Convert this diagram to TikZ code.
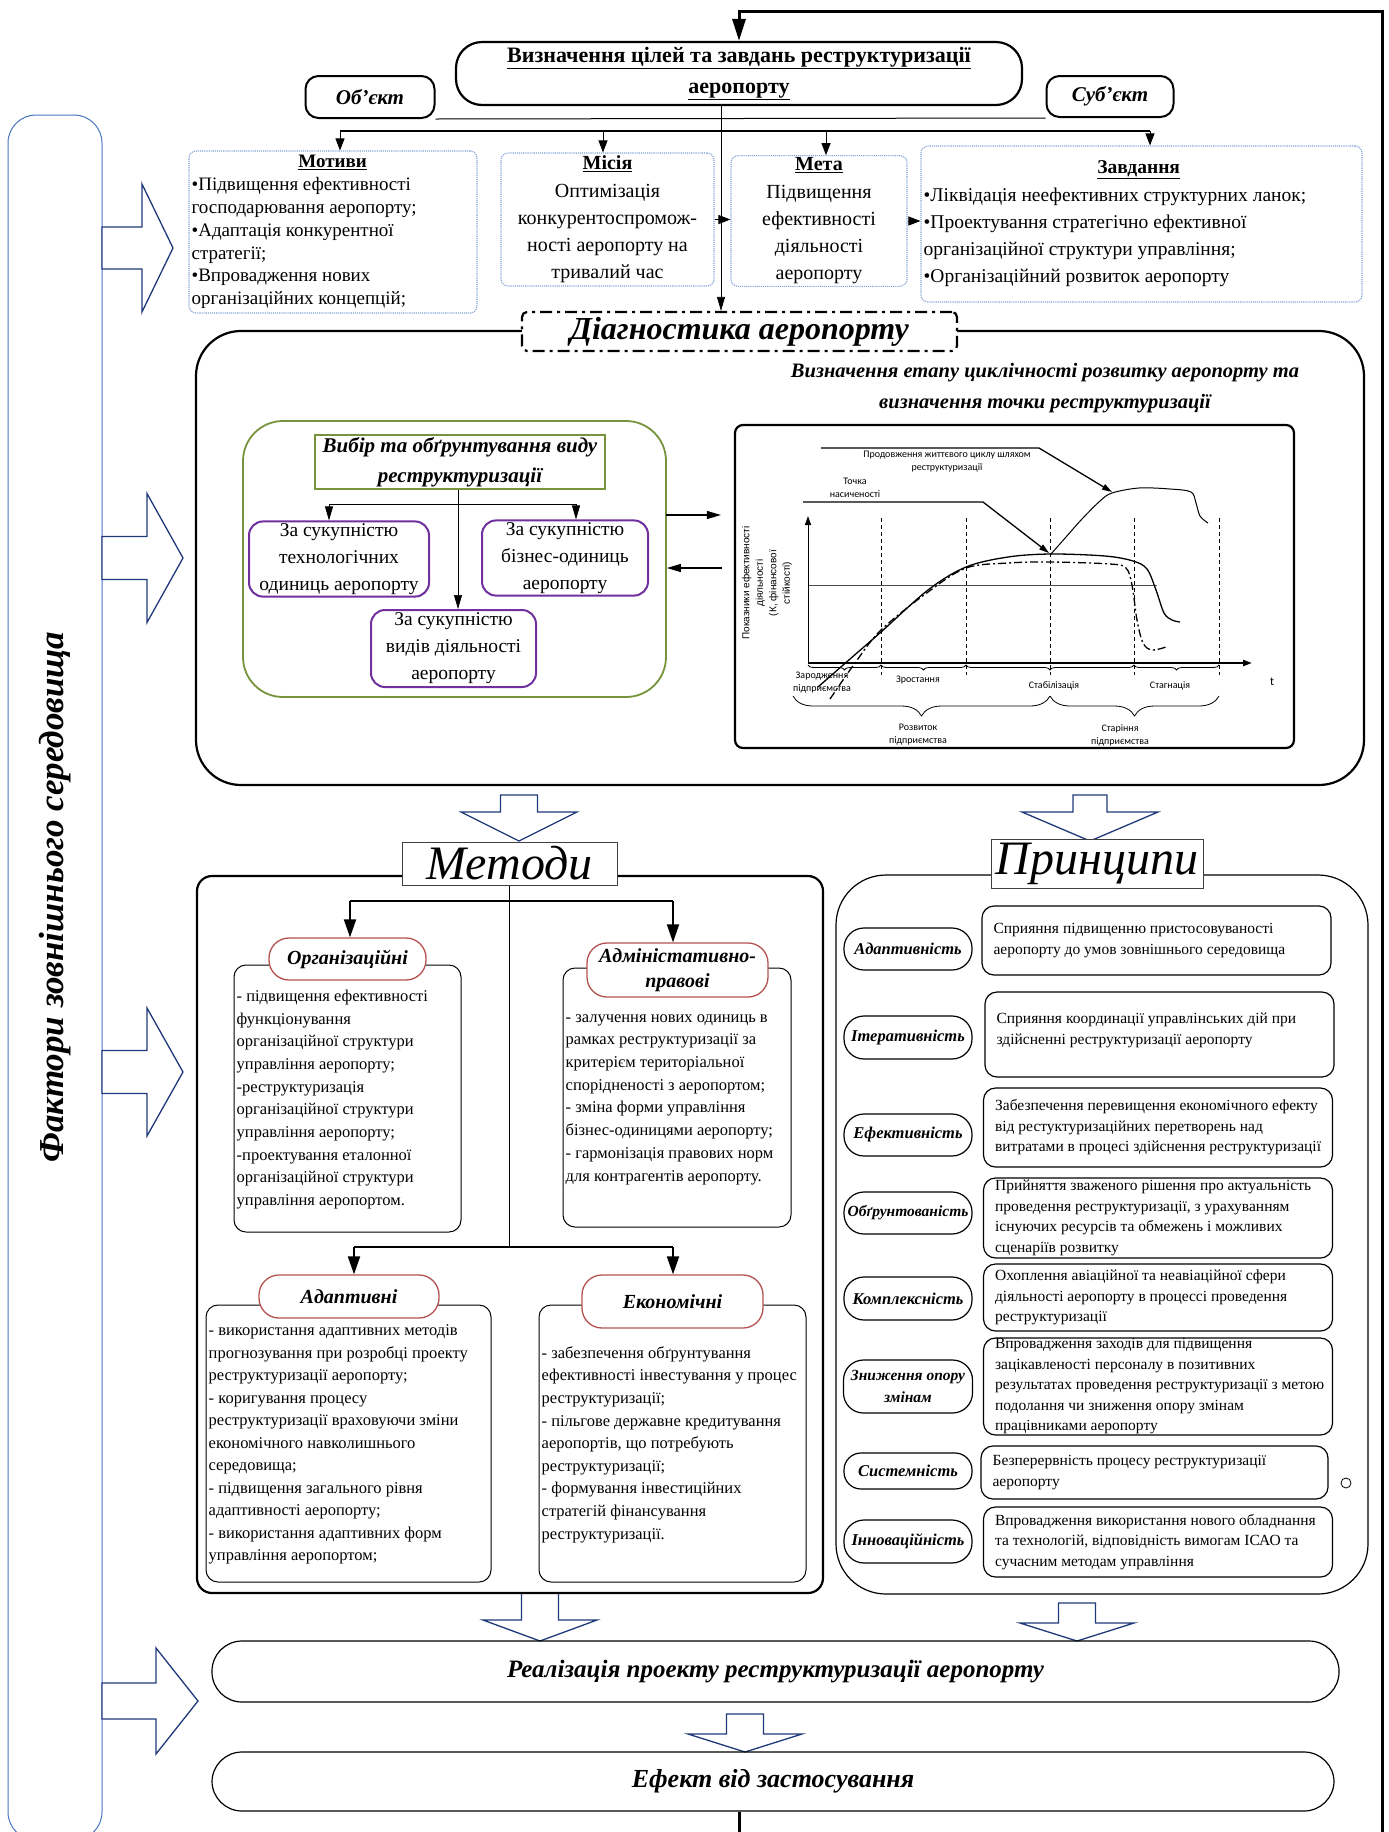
\documentclass[tikz,border=0pt]{standalone}
\usepackage{fontspec}
\setmainfont{Liberation Serif}
\newfontfamily\chartfont{Carlito}
\newfontfamily\axisfont{Liberation Sans}
\usetikzlibrary{arrows.meta,decorations.pathreplacing,calc}
\definecolor{navyc}{HTML}{1F3A7A}
\definecolor{barblue}{HTML}{4A76C0}
\definecolor{dotblue}{HTML}{7F9FD8}
\definecolor{olivec}{HTML}{77933C}
\definecolor{violetc}{HTML}{7030A0}
\definecolor{hdrred}{HTML}{B5524F}
\newcommand\fsz[2]{\fontsize{#1}{#2}\selectfont}
\newcommand\hdown[6]{\draw[hollow] ({#1-#5},#2) -- ({#1+#5},#2) -- ({#1+#5},#3) -- ({#1+#6},#3) -- (#1,#4) -- ({#1-#6},#3) -- ({#1-#5},#3) -- cycle;}
\newcommand\hright[6]{\draw[hollow] (#2,{#1-#5}) -- (#3,{#1-#5}) -- (#3,{#1-#6}) -- (#4,#1) -- (#3,{#1+#6}) -- (#3,{#1+#5}) -- (#2,{#1+#5}) -- cycle;}
\begin{document}
\begin{tikzpicture}[x=1pt,y=-1pt,
  every node/.style={inner sep=2pt},
  goalbox/.style={draw, line width=2.2pt, rounded corners=26pt, fill=white},
  smallround/.style={draw, line width=2pt, rounded corners=13pt, fill=white},
  dotbox/.style={draw=dotblue, densely dotted, line width=1.1pt, rounded corners=7pt},
  arr/.style={-{Triangle[length=12pt,width=9pt]}, line width=1pt},
  thinarr/.style={-{Triangle[length=14pt,width=8pt]}, line width=0.7pt},
  bigarr/.style={-{Triangle[length=18pt,width=12pt]}, line width=2pt},
  diagbox/.style={draw, dash pattern=on 12pt off 5pt on 3pt off 5pt, line width=2.2pt, rounded corners=5pt, fill=white},
  bigbox/.style={draw, line width=2.2pt},
  greenbox/.style={draw=olivec, line width=1.8pt, rounded corners=40pt},
  choicebox/.style={draw=olivec, line width=2pt, fill=white},
  purplebox/.style={draw=violetc, line width=2pt, rounded corners=14pt, fill=white},
  hollow/.style={draw=navyc, line width=1.3pt, fill=white, line join=miter},
  titlebox/.style={draw=black!75, line width=1pt, fill=white},
  hdr/.style={draw=hdrred, line width=1.3pt, rounded corners=20pt, fill=white},
  contentbox/.style={draw, line width=1pt, rounded corners=12pt},
  oval/.style={draw, line width=1.2pt, rounded corners=20pt, fill=white, font=\bfseries\itshape\fsz{16.5}{20}},
  descbox/.style={draw, line width=1.2pt, rounded corners=12pt},
  stadium/.style={draw, line width=1.2pt, rounded corners=30pt},
  ctext/.style={font=\chartfont\fsz{10}{13}, align=center, inner sep=0pt},
  chartline/.style={line width=1.3pt},
]
\useasboundingbox (0,0) rectangle (1389,1832);
\fill[white] (0,0) rectangle (1389,1832);

% ---------- left bar ----------
\node[draw=barblue, line width=1pt, rounded corners=28pt, minimum width=94pt, minimum height=1725pt] (bar) at (55,977.5) {};
\node[rotate=90, font=\bfseries\itshape\fsz{35}{40}] (bartext) at (55,897) {Фактори зовнішнього середовища};
\hright{248}{102}{142}{173}{21}{64}
\hright{558}{102}{147}{183}{21.5}{64.5}
\hright{1072}{102}{147}{183}{21.5}{64}
\hright{1701}{102}{156}{198}{18}{53}

% ---------- top ----------
\node[goalbox, minimum width=566pt, minimum height=63pt, align=center, font=\bfseries\fsz{22}{31}] (goal) at (739,73.5) {\underline{Визначення цілей та завдань реструктуризації}\\\underline{аеропорту}};
\node[smallround, minimum width=129pt, minimum height=42pt, font=\bfseries\itshape\fsz{21}{24}] (obj) at (370,97) {Об’єкт};
\node[smallround, minimum width=127pt, minimum height=41pt, font=\bfseries\itshape\fsz{21}{24}] (subj) at (1110,96.5) {Суб’єкт};
\draw[line width=1pt] (obj.south east) -- (subj.south west);

\node[dotbox, minimum width=288pt, minimum height=162pt] (mot) at (333,232) {};
\node[anchor=west, align=left, inner sep=0pt, font=\fsz{19}{22.8}] (mott) at ($(mot.west)+(3,0)$) {\makebox[282pt]{\textbf{\underline{Мотиви}}}\\•Підвищення ефективності\\господарювання аеропорту;\\•Адаптація конкурентної\\стратегії;\\•Впровадження нових\\організаційних концепцій;};
\node[dotbox, minimum width=213pt, minimum height=133pt, align=center, font=\fsz{20}{27.3}] (mis) at (607.5,219.5) {\textbf{\underline{Місія}}\\Оптимізація\\конкурентоспромож-\\ності аеропорту на\\тривалий час};
\node[dotbox, minimum width=176pt, minimum height=130pt, align=center, font=\fsz{20}{27.3}] (meta) at (819,221) {\textbf{\underline{Мета}}\\Підвищення\\ефективності\\діяльності\\аеропорту};
\node[dotbox, minimum width=441pt, minimum height=156pt] (zav) at (1141.5,224) {};
\node[anchor=west, align=left, inner sep=0pt, font=\fsz{19.5}{27.3}] (zavt) at ($(zav.west)+(3,0)$) {\makebox[430pt]{\textbf{\underline{Завдання}}}\\•Ліквідація неефективних структурних ланок;\\•Проектування стратегічно ефективної\\організаційної структури управління;\\•Організаційний розвиток аеропорту};

\coordinate (bA) at (340,131);
\coordinate (bB) at (603,131);
\coordinate (bC) at (826,131);
\coordinate (bD) at (1150,131);
\draw[line width=1.3pt] (bA) -- (bD);
\draw[arr] (bA) -- (bA |- mot.north);
\draw[arr] (bB) -- (bB |- mis.north);
\draw[arr] (bC) -- (bC |- meta.north);
\draw[arr] (bD) -- (bD |- zav.north);
\draw[arr] (mis.east) -- (mis.east -| meta.west);
\draw[arr] (meta.east) -- (meta.east -| zav.west);

% ---------- diagnostics ----------
\node[bigbox, rounded corners=45pt, minimum width=1168pt, minimum height=454pt] (diagarea) at (780,558) {};
\node[diagbox, minimum width=435pt, minimum height=39pt, font=\bfseries\itshape\fsz{32}{36}] (diag) at (739.5,331.5) {Діагностика аеропорту};
\coordinate (gv) at ($(goal.south)+(-18,0)$);
\draw[thinarr] (gv) -- (gv |- diag.north);

\node[align=center, font=\bfseries\itshape\fsz{20.5}{31}] (charttitle) at (1045,388.5) {Визначення етапу циклічності розвитку аеропорту та\\визначення точки реструктуризації};

\node[greenbox, minimum width=423pt, minimum height=276pt] (green) at (454.5,559) {};
\node[choicebox, minimum width=290pt, minimum height=54pt, align=center, font=\bfseries\itshape\fsz{21}{30}] (choice) at (460,462) {Вибір та обґрунтування виду\\реструктуризації};
\node[purplebox, minimum width=180pt, minimum height=74pt, align=center, font=\fsz{19.5}{27}] (p1) at (339,559) {За сукупністю\\технологічних\\одиниць аеропорту};
\node[purplebox, minimum width=166pt, minimum height=72pt, align=center, font=\fsz{19.5}{27}] (p2) at (565,558) {За сукупністю\\бізнес-одиниць\\аеропорту};
\node[purplebox, minimum width=165pt, minimum height=77pt, align=center, font=\fsz{19.5}{27}] (p3) at (453.5,648.5) {За сукупністю\\видів діяльності\\аеропорту};
\coordinate (cL) at (329,504);
\coordinate (cR) at (576,504);
\coordinate (cV) at ($(choice.south)+(-2,0)$);
\draw[line width=1pt] (cL) -- (cR);
\draw[thinarr] (cL) -- (cL |- p1.north);
\draw[thinarr] (cR) -- (cR |- p2.north);
\draw[thinarr] (cV) -- (cV |- p3.north);

\node[draw, line width=2.2pt, rounded corners=8pt, minimum width=559pt, minimum height=323pt] (chart) at (1014.5,586.5) {};
\coordinate (ga) at (666,515);
\coordinate (gb) at (722,568);
\draw[thinarr, line width=1.2pt, shorten >=13pt] (ga) -- (ga -| chart.west);
\draw[thinarr, line width=1.2pt] (gb) -- (gb -| green.east);

% chart internals
\coordinate (O) at (808,663);
\draw[line width=0.7pt, dash pattern=on 4pt off 3pt] (881,518) -- (881,675);
\draw[line width=0.7pt, dash pattern=on 4pt off 3pt] (966,518) -- (966,675);
\draw[line width=0.7pt, dash pattern=on 4pt off 3pt] (1050,518) -- (1050,675);
\draw[line width=0.7pt, dash pattern=on 4pt off 3pt] (1134,518) -- (1134,675);
\draw[line width=0.7pt, dash pattern=on 4pt off 3pt] (1219,518) -- (1219,675);
\draw[line width=0.8pt, black!70] (808,585) -- (1157,585);
\draw[line width=2pt, -{Triangle[length=9pt,width=6pt]}] (O) -- (1252,663);
\draw[line width=1pt, -{Triangle[length=9pt,width=6pt]}] (O) -- (808,516);
\draw[chartline] plot[smooth, tension=0.55] coordinates {(818,687) (850,659) (881,632) (928,590) (966,567) (1008,557) (1051,554) (1105,556) (1133,561) (1147,569) (1156,590) (1164,613) (1172,620) (1180,622)};
\draw[chartline, dash pattern=on 8pt off 3pt on 2pt off 3pt] plot[smooth, tension=0.55] coordinates {(830,699) (855,663) (881,630) (928,592) (966,568) (1008,563) (1051,562) (1110,564) (1126,568) (1132,585) (1137,620) (1143,643) (1152,650) (1166,647)};
\draw[line width=1pt] plot[smooth, tension=0.55] coordinates {(1051,554) (1066,537) (1082,519) (1100,501) (1112,493) (1139,488) (1170,489) (1191,492) (1196,503) (1200,516) (1208,523)};
\draw[line width=1.3pt, -{Triangle[length=10pt,width=6pt]}] (821,448) -- (1039,448) -- (1112,492);
\draw[line width=1.3pt, -{Triangle[length=10pt,width=6pt]}] (803,502) -- (983,502) -- (1049,553);
\node[ctext] (lprod) at (947,462) {Продовження життєвого циклу шляхом\\реструктуризації};
\node[ctext] (ltochka) at (855,488) {Точка\\насиченості};
\draw[line width=0.8pt, decorate, decoration={brace, amplitude=5pt, mirror}] (808,665) -- (881,665);
\draw[line width=0.8pt, decorate, decoration={brace, amplitude=5pt, mirror}] (881,665) -- (966,665);
\draw[line width=0.8pt, decorate, decoration={brace, amplitude=5pt, mirror}] (966,665) -- (1134,665);
\draw[line width=0.8pt, decorate, decoration={brace, amplitude=5pt, mirror}] (1134,665) -- (1219,665);
\draw[line width=0.8pt, decorate, decoration={brace, amplitude=20pt, mirror}] (793,696) -- (1050,696);
\draw[line width=0.8pt, decorate, decoration={brace, amplitude=20pt, mirror}] (1050,696) -- (1219,696);
\node[ctext] (lzar) at (822,683) {Зародження\\підприємства};
\node[ctext] (lzro) at (918,680) {Зростання};
\node[ctext] (lsta) at (1054,686) {Стабілізація};
\node[ctext] (lstg) at (1170,686) {Стагнація};
\node[ctext, font=\chartfont\fsz{12}{13}] (lt) at (1272,682) {t};
\node[ctext] (lroz) at (918,735) {Розвиток\\підприємства};
\node[ctext] (lsta2) at (1120,735) {Старіння\\підприємства};
\node[rotate=90, align=center, inner sep=0pt, font=\axisfont\fsz{10}{13.5}] (ylab) at (767,583) {Показники ефективності\\діяльності\\(К, фінансової\\стійкості)};

% ---------- hollow arrows ----------
\hdown{519}{795}{812}{841}{18.5}{58}
\hdown{1090}{795}{812}{841}{17}{68}
\hdown{540}{1593}{1620}{1641}{18.5}{57}
\hdown{1077}{1603}{1623}{1641}{18.5}{57}
\hdown{745}{1714}{1734}{1752}{18.5}{57}

% ---------- methods ----------
\node[bigbox, rounded corners=15pt, minimum width=626pt, minimum height=717pt] (metharea) at (510,1234.5) {};
\node[titlebox, minimum width=215pt, minimum height=43pt, font=\itshape\fsz{48}{48}] (methtitle) at (509.5,863.5) {Методи};
\coordinate (mb) at (509.5,1247);
\coordinate (mL1) at (350,901);
\coordinate (mR1) at (673,901);
\coordinate (mL2) at (354,1247);
\coordinate (mR2) at (673,1247);
\draw[line width=1.5pt] (methtitle.south) -- (mb);
\draw[line width=1.5pt] (mL1) -- (mR1);
\draw[line width=1.5pt] (mL2) -- (mR2);

\node[contentbox, minimum width=227pt, minimum height=267pt] (c1) at (347.5,1098.5) {};
\node[contentbox, minimum width=228pt, minimum height=259pt] (c2) at (677,1097.5) {};
\node[contentbox, minimum width=285pt, minimum height=277pt] (c3) at (348.5,1443.5) {};
\node[contentbox, minimum width=267pt, minimum height=277pt] (c4) at (672.5,1443.5) {};
\node[hdr, minimum width=157pt, minimum height=42pt, font=\bfseries\itshape\fsz{20}{24}] (org) at (347.5,959) {Організаційні};
\node[hdr, minimum width=181pt, minimum height=54pt, align=center, font=\bfseries\itshape\fsz{20}{25}] (adm) at (677.5,970) {Адміністативно-\\правові};
\node[hdr, minimum width=180pt, minimum height=43pt, font=\bfseries\itshape\fsz{20}{24}] (adap) at (349,1296.5) {Адаптивні};
\node[hdr, minimum width=181pt, minimum height=53pt, font=\bfseries\itshape\fsz{20}{24}] (econ) at (672.5,1301.5) {Економічні};
\draw[bigarr] (mL1) -- (mL1 |- org.north);
\draw[bigarr] (mR1) -- (mR1 |- adm.north);
\draw[bigarr] (mL2) -- (mL2 |- adap.north);
\draw[bigarr] (mR2) -- (mR2 |- econ.north);

\node[anchor=west, align=left, inner sep=0pt, font=\fsz{16.5}{22.7}] (c1t) at ($(c1.west)+(3,1)$) {- підвищення ефективності\\функціонування\\організаційної структури\\управління аеропорту;\\-реструктуризація\\організаційної структури\\управління аеропорту;\\-проектування еталонної\\організаційної структури\\управління аеропортом.};
\node[anchor=west, align=left, inner sep=0pt, font=\fsz{16.5}{22.7}] (c2t) at ($(c2.west)+(3,2)$) {- залучення нових одиниць в\\рамках реструктуризації за\\критерієм територіальної\\спорідненості з аеропортом;\\- зміна форми управління\\бізнес-одиницями аеропорту;\\- гармонізація правових норм\\для контрагентів аеропорту.};
\node[anchor=west, align=left, inner sep=0pt, font=\fsz{16.5}{22.5}] (c3t) at ($(c3.west)+(3,1)$) {- використання адаптивних методів\\прогнозування при розробці проекту\\реструктуризації аеропорту;\\- коригування процесу\\реструктуризації враховуючи зміни\\економічного навколишнього\\середовища;\\- підвищення загального рівня\\адаптивності аеропорту;\\- використання адаптивних форм\\управління аеропортом;};
\node[anchor=west, align=left, inner sep=0pt, font=\fsz{16.5}{22.6}] (c4t) at ($(c4.west)+(3,1)$) {- забезпечення обґрунтування\\ефективності інвестування у процес\\реструктуризації;\\- пільгове державне кредитування\\аеропортів, що потребують\\реструктуризації;\\- формування інвестиційних\\стратегій фінансування\\реструктуризації.};

% ---------- principles ----------
\node[draw, line width=1.2pt, rounded corners=50pt, minimum width=532pt, minimum height=719pt] (prarea) at (1102,1234.5) {};
\node[titlebox, minimum width=212pt, minimum height=49pt, font=\itshape\fsz{48}{48}] (prtitle) at (1097,863.5) {Принципи};

\node[oval, minimum width=128pt, minimum height=42pt] (o1) at (908,949) {Адаптивність};
\node[oval, minimum width=128pt, minimum height=43pt] (o2) at (908,1037.5) {Ітеративність};
\node[oval, minimum width=128pt, minimum height=42pt] (o3) at (908,1135) {Ефективність};
\node[oval, minimum width=128pt, minimum height=42pt, font=\bfseries\itshape\fsz{15.5}{20}] (o4) at (908,1213) {Обґрунтованість};
\node[oval, minimum width=128pt, minimum height=43pt] (o5) at (908,1298.5) {Комплексність};
\node[oval, minimum width=129pt, minimum height=53pt, align=center, font=\bfseries\itshape\fsz{15.5}{22}] (o6) at (908,1386.5) {Зниження опору\\змінам};
\node[oval, minimum width=128pt, minimum height=36pt, rounded corners=17pt] (o7) at (908,1471) {Системність};
\node[oval, minimum width=128pt, minimum height=43pt] (o8) at (908,1541.5) {Інноваційність};

\node[descbox, minimum width=349pt, minimum height=69pt] (d1) at (1156.5,940.5) {};
\node[descbox, minimum width=349pt, minimum height=85pt] (d2) at (1159.5,1034.5) {};
\node[descbox, minimum width=349pt, minimum height=79pt] (d3) at (1158,1127.5) {};
\node[descbox, minimum width=349pt, minimum height=80pt] (d4) at (1158,1218) {};
\node[descbox, minimum width=349pt, minimum height=67pt] (d5) at (1158,1297.5) {};
\node[descbox, minimum width=349pt, minimum height=97pt] (d6) at (1158,1386.5) {};
\node[descbox, minimum width=347pt, minimum height=53pt] (d7) at (1154.5,1472.5) {};
\node[descbox, minimum width=349pt, minimum height=70pt] (d8) at (1158,1542) {};
\tikzset{dtext/.style={anchor=west, align=left, inner sep=0pt, font=\fsz{15.5}{20.5}}}
\node[dtext] (d1t) at ($(d1.west)+(12,0)$) {Сприяння підвищенню пристосовуваності\\аеропорту до умов зовнішнього середовища};
\node[dtext] (d2t) at ($(d2.west)+(12,-4)$) {Сприяння координації управлінських дій при\\здійсненні реструктуризації аеропорту};
\node[dtext] (d3t) at ($(d3.west)+(12,0)$) {Забезпечення перевищення економічного ефекту\\від рестуктуризаційних перетворень над\\витратами в процесі здійснення реструктуризації};
\node[dtext] (d4t) at ($(d4.west)+(12,0)$) {Прийняття зваженого рішення про актуальність\\проведення реструктуризації, з урахуванням\\існуючих ресурсів та обмежень і можливих\\сценаріїв розвитку};
\node[dtext] (d5t) at ($(d5.west)+(12,0)$) {Охоплення авіаційної та неавіаційної сфери\\діяльності аеропорту в процессі проведення\\реструктуризації};
\node[dtext] (d6t) at ($(d6.west)+(12,0)$) {Впровадження заходів для підвищення\\зацікавленості персоналу в позитивних\\результатах проведення реструктуризації з метою\\подолання чи зниження опору змінам\\працівниками аеропорту};
\node[dtext] (d7t) at ($(d7.west)+(12,0)$) {Безперервність процесу реструктуризації\\аеропорту};
\node[dtext] (d8t) at ($(d8.west)+(12,0)$) {Впровадження використання нового обладнання\\та технологій, відповідність вимогам ІСАО та\\сучасним методам управління};
\node[draw, circle, minimum size=10pt, inner sep=0pt, line width=0.8pt] (dot) at (1346,1483) {};

% ---------- bottom ----------
\node[stadium, minimum width=1127pt, minimum height=61pt, font=\bfseries\itshape\fsz{25}{28}] (real) at (775.5,1671.5) {Реалізація проекту реструктуризації аеропорту};
\node[stadium, minimum width=1122pt, minimum height=59pt, font=\bfseries\itshape\fsz{26}{28}] (effect) at (773,1781.5) {Ефект від застосування};

% ---------- feedback loop ----------
\coordinate (fbB) at (739,1850);
\coordinate (fbC) at (1382,1850);
\coordinate (fbD) at (1382,11);
\coordinate (fbE) at (739,11);
\begin{scope}
\clip (0,0) rectangle (1389,1832);
\draw[line width=3pt, -{Triangle[length=22pt,width=13pt]}] (goal.north |- effect.south) -- (fbB) -- (fbC) -- (fbD) -- (fbE) -- (goal.north);
\end{scope}
\end{tikzpicture}
\end{document}
